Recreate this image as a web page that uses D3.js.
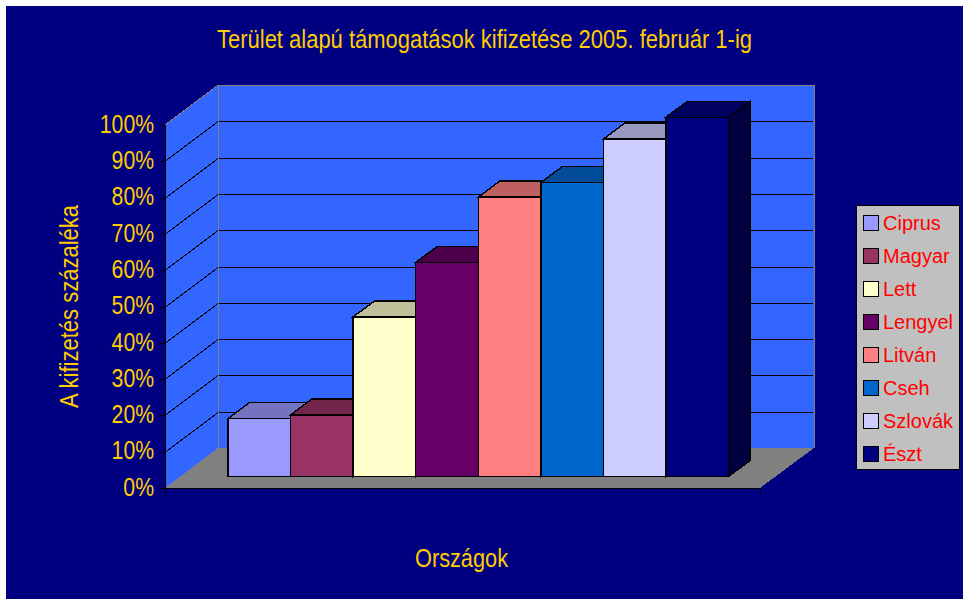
<!DOCTYPE html>
<html><head><meta charset="utf-8">
<script src="https://cdn.jsdelivr.net/npm/d3@7/dist/d3.min.js"></script>
<style>html,body{margin:0;padding:0;background:#fff}svg{display:block}text{font-family:"Liberation Sans",Arial,sans-serif}</style>
</head><body><svg id="c" width="968" height="604"></svg>
<script>
const countries=["Ciprus","Magyar","Lett","Lengyel","Litván","Cseh","Szlovák","Észt"];
const values=[16,17,44,59,77,81,93,99];
const barColors=["#9999FF","#993366","#FFFFCC","#660066","#FF8080","#0066CC","#CCCCFF","#000080"];
const topColors=["#7373BF","#732649","#BFBF99","#4C004C","#BF6060","#004C99","#9999BF","#000060"];
const sideColors=["#4C4C80","#4C1933","#808066","#330033","#804040","#003366","#666680","#000040"];
const tickValues=[0,10,20,30,40,50,60,70,80,90,100];
const titleText="Terület alapú támogatások kifizetése 2005. február 1-ig";
const yTitle="A kifizetés százaléka";
const xTitle="Országok";

const svg=d3.select("#c");
const GOLD="#FFCC00";
const x0=165,x1=760,y0=488,y1=125,depthX=53,depthY=-40,barBase=476.6,barDx=21.5,barDy=-16,LW=1.4;
const y=d3.scaleLinear().domain([0,100]).range([y0,y1]);
const h=d3.scaleLinear().domain([0,100]).range([0,y0-y1]);
const x=d3.scaleBand().domain(countries).range([228,728.5]).padding(0);
const pts=a=>a.map(p=>p.join(",")).join(" ");
const crisp=s=>s.attr("shape-rendering","crispEdges");

svg.append("rect").attr("x",6).attr("y",6).attr("width",957).attr("height",593).attr("fill","#000080");

// walls
crisp(svg.append("polygon").attr("points",pts([[x0,y1],[x0+depthX,y1+depthY],[x0+depthX,y0+depthY],[x0,y0]])).attr("fill","#3366FF"));
crisp(svg.append("rect").attr("x",x0+depthX).attr("y",y1+depthY).attr("width",x1-x0+1).attr("height",y0-y1).attr("fill","#3366FF"));
crisp(svg.append("polygon").attr("points",pts([[x0,y0],[x0+depthX,y0+depthY],[x1+depthX+1,y0+depthY],[x1,y0]])).attr("fill","#808080"));

// gridlines
const grid=svg.append("g");
tickValues.slice(1,-1).forEach(t=>{
  const yy=Math.round(y(t))+0.5;
  crisp(grid.append("polyline").attr("points",pts([[x0,yy],[x0+depthX,yy+depthY],[x1+depthX,yy+depthY]])).attr("fill","none").attr("stroke","#000").attr("stroke-width",1));
});
// wall edges
crisp(svg.append("polyline").attr("points",pts([[x0,y1],[x0+depthX,y1+depthY],[x1+depthX+1,y1+depthY],[x1+depthX+1,y0+depthY]])).attr("fill","none").attr("stroke","#808080").attr("stroke-width",1));
crisp(svg.append("line").attr("x1",x0+depthX).attr("x2",x0+depthX).attr("y1",y1+depthY).attr("y2",y0+depthY).attr("stroke","#808080").attr("stroke-width",1));

// bars
const bars=svg.append("g").selectAll("g").data(countries).join("g");
bars.each(function(c,i){
  const g=d3.select(this),l=x(c),r=l+x.bandwidth(),t=barBase-h(values[i]);
  crisp(g.append("polygon").attr("points",pts([[r,t],[r+barDx,t+barDy],[r+barDx,barBase+barDy],[r,barBase]])).attr("fill",sideColors[i]).attr("stroke","#000").attr("stroke-width",LW));
  crisp(g.append("polygon").attr("points",pts([[l,t],[l+barDx,t+barDy],[r+barDx,t+barDy],[r,t]])).attr("fill",topColors[i]).attr("stroke","#000").attr("stroke-width",LW));
  crisp(g.append("rect").attr("x",l).attr("y",t).attr("width",x.bandwidth()).attr("height",barBase-t).attr("fill",barColors[i]).attr("stroke","#000").attr("stroke-width",LW));
});

// y axis
const axisG=svg.append("g").attr("transform",`translate(${x0},0)`)
  .call(d3.axisLeft(y).tickValues(tickValues).tickFormat(d=>d+"%").tickSize(5).tickPadding(6));
crisp(axisG.selectAll("line,path")).attr("stroke","#000").attr("stroke-width",1);
axisG.selectAll("text").attr("fill",GOLD).attr("font-size",26).attr("dy","0.28em").style("font-family",'"Liberation Sans",Arial,sans-serif')
  .each(function(){this.setAttribute("textLength",this.getComputedTextLength()*0.815);this.setAttribute("lengthAdjust","spacingAndGlyphs");});
// x axis line
crisp(svg.append("path").attr("d",`M${x0},${y0+6}V${y0}H${x1}V${y0+6}`).attr("fill","none").attr("stroke","#000").attr("stroke-width",1));

// titles
svg.append("text").attr("x",484.5).attr("y",48).attr("text-anchor","middle").attr("fill",GOLD).attr("font-size",26)
  .attr("textLength",535).attr("lengthAdjust","spacingAndGlyphs").text(titleText);
svg.append("text").attr("x",461.5).attr("y",567).attr("text-anchor","middle").attr("fill",GOLD).attr("font-size",26)
  .attr("textLength",93).attr("lengthAdjust","spacingAndGlyphs").text(xTitle);
svg.append("text").attr("transform","translate(78,306.5) rotate(-90)").attr("text-anchor","middle").attr("fill",GOLD).attr("font-size",26)
  .attr("textLength",203).attr("lengthAdjust","spacingAndGlyphs").text(yTitle);

// legend
crisp(svg.append("rect").attr("x",856.5).attr("y",205.5).attr("width",102.5).attr("height",264).attr("fill","#C0C0C0").attr("stroke","#000").attr("stroke-width",1));
const leg=svg.append("g").selectAll("g").data(countries).join("g").attr("transform",(d,i)=>`translate(0,${33*i})`);
crisp(leg.append("rect").attr("x",863.5).attr("y",215.5).attr("width",15).attr("height",15).attr("fill",(d,i)=>barColors[i]).attr("stroke","#000").attr("stroke-width",1));
leg.append("text").attr("x",883).attr("y",230).attr("fill","#FF0000").attr("font-size",20).text(d=>d);
</script></body></html>
